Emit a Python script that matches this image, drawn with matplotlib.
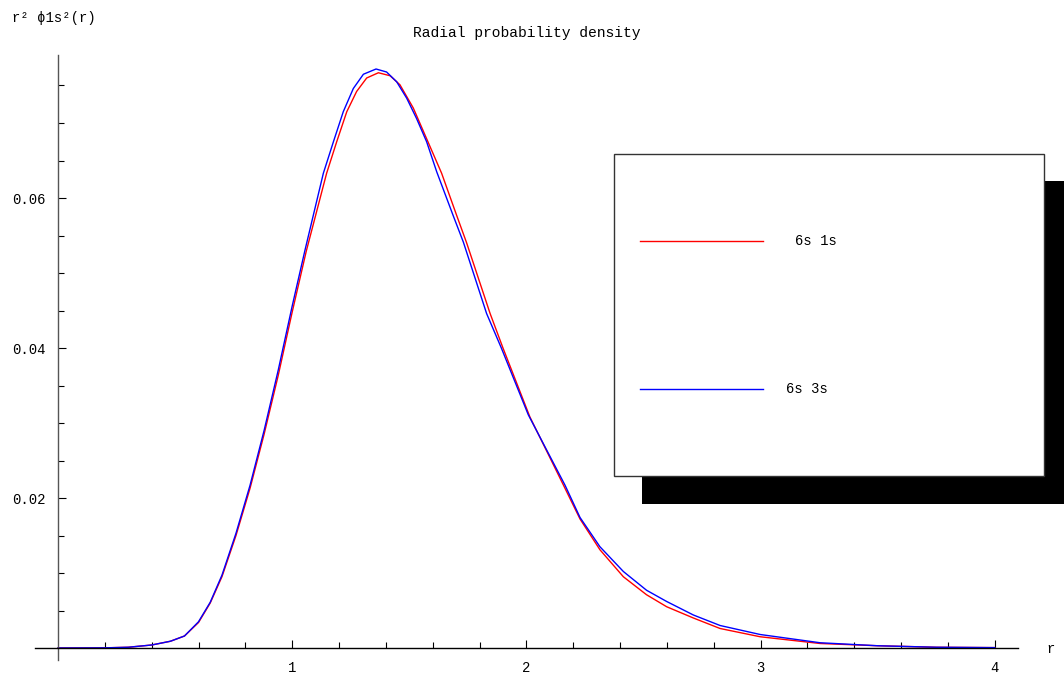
import matplotlib
matplotlib.use('Agg')
import matplotlib.pyplot as plt
from matplotlib.patches import Rectangle
from matplotlib.lines import Line2D
import numpy as np

# values
r_1s = [0.0, 0.2, 0.3, 0.4, 0.48, 0.54, 0.6, 0.65, 0.7, 0.76, 0.82, 0.88, 0.94,
        1.0, 1.06, 1.147, 1.19, 1.233, 1.275, 1.318, 1.368, 1.418, 1.46, 1.517,
        1.574, 1.638, 1.702, 1.745, 1.845, 1.9, 2.015, 2.16, 2.229, 2.314,
        2.414, 2.513, 2.599, 2.713, 2.827, 2.998, 3.254, 3.5, 3.75, 4.0]
dens_1s = [0.0, 0.00002, 0.0001, 0.0004, 0.0009, 0.0016, 0.0034, 0.0060,
           0.0095, 0.0150, 0.0213, 0.0285, 0.0363, 0.0448, 0.0529, 0.0633,
           0.0675, 0.0715, 0.0742, 0.0760, 0.0767, 0.0763, 0.0751, 0.0720,
           0.0679, 0.0633, 0.0577, 0.0540, 0.0446, 0.0400, 0.0308, 0.0216,
           0.0172, 0.0131, 0.0095, 0.0071, 0.0055, 0.0040, 0.0026, 0.0015,
           0.0006, 0.0003, 0.0001, 0.00005]
r_3s = [0.0, 0.2, 0.3, 0.4, 0.48, 0.54, 0.6, 0.65, 0.7, 0.76, 0.82, 0.88, 0.94,
        1.0, 1.055, 1.133, 1.176, 1.218, 1.261, 1.304, 1.358, 1.403, 1.446,
        1.489, 1.531, 1.574, 1.617, 1.688, 1.731, 1.83, 1.893, 2.008, 2.165,
        2.229, 2.314, 2.414, 2.513, 2.599, 2.713, 2.827, 2.998, 3.254, 3.5,
        3.75, 4.0]
dens_3s = [0.0, 0.00002, 0.0001, 0.0004, 0.0009, 0.0016, 0.0035, 0.0061,
           0.0097, 0.0153, 0.0217, 0.0290, 0.0370, 0.0456, 0.0531, 0.0633,
           0.0675, 0.0715, 0.0746, 0.0765, 0.0772, 0.0768, 0.0755, 0.0733,
           0.0706, 0.0675, 0.0635, 0.0576, 0.0541, 0.0446, 0.0400, 0.0311,
           0.0217, 0.0174, 0.0135, 0.0102, 0.0077, 0.0062, 0.0044, 0.0030,
           0.0018, 0.0007, 0.0003, 0.0001, 0.00005]
labels = ['6s 1s', '6s 3s']
colors = ['#ff0000', '#0000ff']

xticks = [1, 2, 3, 4]
yticks = [0.02, 0.04, 0.06]
ytick_labels = ['0.02', '0.04', '0.06']

mono = ['Liberation Mono', 'DejaVu Sans Mono']
plt.rcParams['font.family'] = mono

W, H = 1064, 673
fig = plt.figure(figsize=(W / 100, H / 100), dpi=100)


def fx(px):
    return px / W


def fy(py):
    return 1 - py / H


ax = fig.add_axes([fx(35), fy(660), (1018 - 35) / W, (660 - 55) / H])
ax.set_xlim(-23 / 234.2, 983 / 234.2 - 23 / 234.2)
ax.set_ylim(-12 / 7500, 593 / 7500)

ax.plot(r_1s, dens_1s, color=colors[0], lw=1.0)
ax.plot(r_3s, dens_3s, color=colors[1], lw=1.0)

for s in ['top', 'right']:
    ax.spines[s].set_visible(False)
ax.spines['left'].set_position(('data', 0))
ax.spines['bottom'].set_position(('data', 0))
ax.spines['left'].set_color('#555555')
ax.spines['bottom'].set_color('black')
ax.spines['left'].set_linewidth(1.0)
ax.spines['bottom'].set_linewidth(1.0)

ax.set_xticks(xticks)
ax.set_xticklabels([str(t) for t in xticks])
ax.set_xticks(np.arange(0.2, 4.01, 0.2), minor=True)
ax.set_yticks(yticks)
ax.set_yticklabels(ytick_labels)
ax.set_yticks(np.arange(0.005, 0.0791, 0.005), minor=True)
ax.tick_params(which='both', direction='in', labelsize=10, width=0.8)
ax.tick_params(which='major', length=6)
ax.tick_params(which='minor', length=4)
ax.tick_params(axis='x', which='major', pad=9)
ax.tick_params(axis='y', which='major', pad=9)

fig.text(fx(527), fy(33), 'Radial probability density', ha='center',
         va='center', fontsize=10.5)
fig.text(fx(12), fy(18), 'r² ϕ1s²(r)', ha='left', va='center', fontsize=10)
fig.text(fx(1046), fy(649), 'r', ha='left', va='center', fontsize=10)

# legend box with its offset black shadow
fig.patches.append(Rectangle((fx(642), fy(504)), (1072 - 642) / W, (504 - 181) / H,
                             transform=fig.transFigure, facecolor='black',
                             edgecolor='none', zorder=5))
fig.patches.append(Rectangle((fx(614), fy(476)), (1044 - 614) / W, (476 - 154) / H,
                             transform=fig.transFigure, facecolor='white',
                             edgecolor='#333333', lw=1.0, zorder=6))
for lab, col, ypx, txpx in zip(labels, colors, [241, 389], [795, 786]):
    fig.lines.append(Line2D([fx(640), fx(763)], [fy(ypx), fy(ypx)],
                            transform=fig.transFigure, color=col, lw=1.0,
                            zorder=7))
    fig.text(fx(txpx), fy(ypx), lab, ha='left', va='center', fontsize=10,
             zorder=7)

fig.savefig('out.png', dpi=100)
